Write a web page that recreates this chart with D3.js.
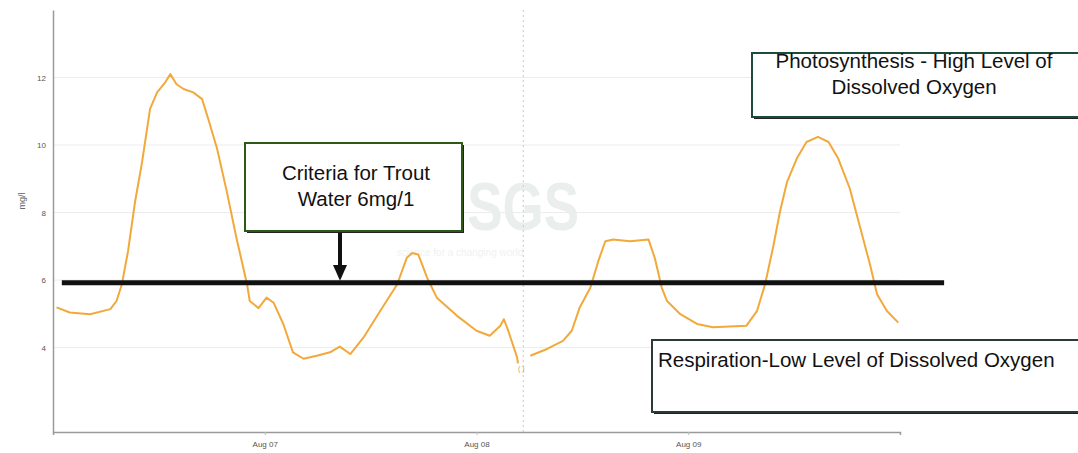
<!DOCTYPE html>
<html>
<head>
<meta charset="utf-8">
<script src="https://cdn.jsdelivr.net/npm/d3@7"></script>
<style>
body { margin: 0; background: #fff; }
text { font-family: "Liberation Sans", Arial, sans-serif; }
</style>
</head>
<body>
<script>
// hours after Aug 06 00:00
var hours = [0.4, 1.9, 4.2, 6.5, 7.2, 7.8, 8.5, 9.3, 10.1, 11.0, 11.8, 12.7, 13.3, 14.0, 14.8,
  15.9, 16.9, 17.6, 18.6, 19.7, 20.8, 22.0, 22.3, 23.3, 24.2, 25.0, 26.1, 27.2, 28.4, 29.9,
  31.4, 32.5, 33.7, 35.2, 37.1, 39.0, 40.1, 40.7, 41.4, 42.4, 43.5, 45.8, 48.0, 49.5, 50.7,
  51.1, 51.6, 52.6, 52.7, 53.3, 54.1, 56.0, 57.8, 58.8, 59.7, 60.9, 61.8, 62.6, 63.5, 65.4,
  67.5, 68.2, 69.0, 69.6, 71.1, 73.0, 74.8, 78.6, 79.8, 80.7, 81.6, 82.4, 83.2, 84.3, 85.4,
  86.7, 87.9, 89.0, 90.3, 91.5, 92.6, 93.4, 94.5, 95.8];
// dissolved oxygen, mg/l (null = gap in record)
var oxygen = [5.19, 5.04, 4.99, 5.14, 5.38, 5.87, 6.85, 8.32, 9.5, 11.07, 11.56, 11.85, 12.1, 11.8, 11.66,
  11.56, 11.36, 10.77, 9.89, 8.62, 7.24, 5.87, 5.38, 5.17, 5.48, 5.33, 4.7, 3.86, 3.67, 3.76,
  3.86, 4.03, 3.81, 4.3, 5.09, 5.87, 6.66, 6.8, 6.76, 6.07, 5.48, 4.94, 4.5, 4.35, 4.65,
  4.84, 4.5, 3.71, 3.53, null, 3.76, 3.96, 4.2, 4.5, 5.19, 5.77, 6.56, 7.15, 7.2, 7.15,
  7.2, 6.66, 5.77, 5.38, 4.99, 4.7, 4.6, 4.65, 5.09, 5.87, 6.95, 8.03, 8.91, 9.6, 10.09,
  10.24, 10.09, 9.6, 8.72, 7.54, 6.46, 5.58, 5.09, 4.74];

var dayTicks = ["2013-08-07", "2013-08-08", "2013-08-09"];
var dayLabels = ["Aug 07", "Aug 08", "Aug 09"];
var yTicks = [4, 6, 8, 10, 12];
var yLabels = ["4", "6", "8", "10", "12"];

var criteria = 5.92;           // trout water criterion line
var criteriaHours = [1.0, 101.0];
var gapHour = 53.3;            // dotted marker at gap

var start = new Date(2013, 7, 6);
var parse = d3.timeParse("%Y-%m-%d");

var width = 1078, height = 453;
var plotL = 53, plotR = 900, plotT = 10, plotB = 432;

var x = d3.scaleTime()
  .domain([start, new Date(2013, 7, 10)])
  .range([plotL, plotR]);

var y = d3.scaleLinear()
  .domain([1.5, 14])
  .range([plotB, plotT]);

function hourDate(h) {
  return new Date(start.getTime() + h * 3600000);
}

var svg = d3.select("body").append("svg")
  .attr("width", width)
  .attr("height", height);

// grid
svg.append("g")
  .selectAll("line")
  .data(yTicks)
  .enter().append("line")
  .attr("x1", plotL).attr("x2", plotR)
  .attr("y1", function(d) { return y(d); })
  .attr("y2", function(d) { return y(d); })
  .attr("stroke", "#ececec")
  .attr("stroke-width", 1);

// watermark
svg.append("text")
  .attr("x", 579).attr("y", 230)
  .attr("text-anchor", "end")
  .attr("font-size", 68)
  .attr("font-weight", "bold")
  .attr("textLength", 150)
  .attr("lengthAdjust", "spacingAndGlyphs")
  .attr("fill", "#eaeeec")
  .text("USGS");
svg.append("text")
  .attr("x", 460).attr("y", 256)
  .attr("text-anchor", "middle")
  .attr("font-size", 10)
  .attr("fill", "#f0f2f1")
  .text("science for a changing world");

// gap marker
svg.append("line")
  .attr("x1", x(hourDate(gapHour))).attr("x2", x(hourDate(gapHour)))
  .attr("y1", plotT).attr("y2", plotB)
  .attr("stroke", "#c8c8c8")
  .attr("stroke-dasharray", "2,3");
svg.append("text")
  .attr("x", x(hourDate(gapHour)) - 2).attr("y", 371)
  .attr("text-anchor", "middle")
  .attr("font-size", 7)
  .attr("fill", "#c9a060")
  .text("( )");

// axes
var yAxis = svg.append("g")
  .attr("transform", "translate(" + plotL + ",0)")
  .call(d3.axisLeft(y).tickValues(yTicks).tickSize(0).tickPadding(7)
    .tickFormat(function(d, i) { return yLabels[i]; }));
yAxis.select(".domain").attr("stroke", "#9a9a9a").attr("stroke-width", 1.5);
yAxis.selectAll("text").attr("font-size", 8).attr("fill", "#555");

var xAxis = svg.append("g")
  .attr("transform", "translate(0," + plotB + ")")
  .call(d3.axisBottom(x).tickValues(dayTicks.map(parse)).tickSize(3).tickPadding(6)
    .tickFormat(function(d, i) { return dayLabels[i]; }));
xAxis.select(".domain").attr("stroke", "#9a9a9a").attr("stroke-width", 1.5);
xAxis.selectAll("line").attr("stroke", "#bbb");
xAxis.selectAll("text").attr("font-size", 8).attr("fill", "#555");

svg.append("text")
  .attr("transform", "translate(25,201) rotate(-90)")
  .attr("text-anchor", "middle")
  .attr("font-size", 9)
  .attr("fill", "#666")
  .text("mg/l");

// oxygen curve
var pts = hours.map(function(h, i) { return { t: hourDate(h), v: oxygen[i] }; });
var line = d3.line()
  .defined(function(d) { return d.v !== null; })
  .x(function(d) { return x(d.t); })
  .y(function(d) { return y(d.v); });

svg.append("path")
  .datum(pts)
  .attr("fill", "none")
  .attr("stroke", "#f2a93b")
  .attr("stroke-width", 2)
  .attr("stroke-linejoin", "round")
  .attr("d", line);

// criterion line
svg.append("line")
  .attr("x1", x(hourDate(criteriaHours[0])))
  .attr("x2", x(hourDate(criteriaHours[1])))
  .attr("y1", y(criteria)).attr("y2", y(criteria))
  .attr("stroke", "#111")
  .attr("stroke-width", 5);

// annotation boxes
function box(bx, by, bw, bh, stroke) {
  svg.append("rect")
    .attr("x", bx + 2).attr("y", by + 2)
    .attr("width", bw).attr("height", bh)
    .attr("fill", "#222");
  svg.append("rect")
    .attr("x", bx).attr("y", by)
    .attr("width", bw).attr("height", bh)
    .attr("fill", "#fff")
    .attr("stroke", stroke)
    .attr("stroke-width", 2);
}

function lines(tx, ty, anchor, arr) {
  var t = svg.append("text")
    .attr("x", tx).attr("y", ty)
    .attr("text-anchor", anchor)
    .attr("font-size", 20.5)
    .attr("fill", "#111");
  arr.forEach(function(s, i) {
    t.append("tspan").attr("x", tx).attr("dy", i ? 26 : 0).text(s);
  });
}

// arrow from criteria box to line
var ax = 340;
svg.append("line")
  .attr("x1", ax).attr("x2", ax)
  .attr("y1", 232).attr("y2", 266)
  .attr("stroke", "#111").attr("stroke-width", 4);
svg.append("path")
  .attr("d", "M" + (ax - 7) + ",265L" + (ax + 7) + ",265L" + ax + "," + (y(criteria) - 2) + "Z")
  .attr("fill", "#111");

box(245, 143, 217, 88, "#2c5a16");
lines(356, 180, "middle", ["Criteria for Trout", "Water 6mg/1"]);

box(752, 53, 340, 64, "#1d4a3a");
lines(914, 68, "middle", ["Photosynthesis - High Level of", "Dissolved Oxygen"]);

box(652, 340, 440, 72, "#2a3a34");
lines(658, 367, "start", ["Respiration-Low Level of Dissolved Oxygen"]);
</script>
</body>
</html>
